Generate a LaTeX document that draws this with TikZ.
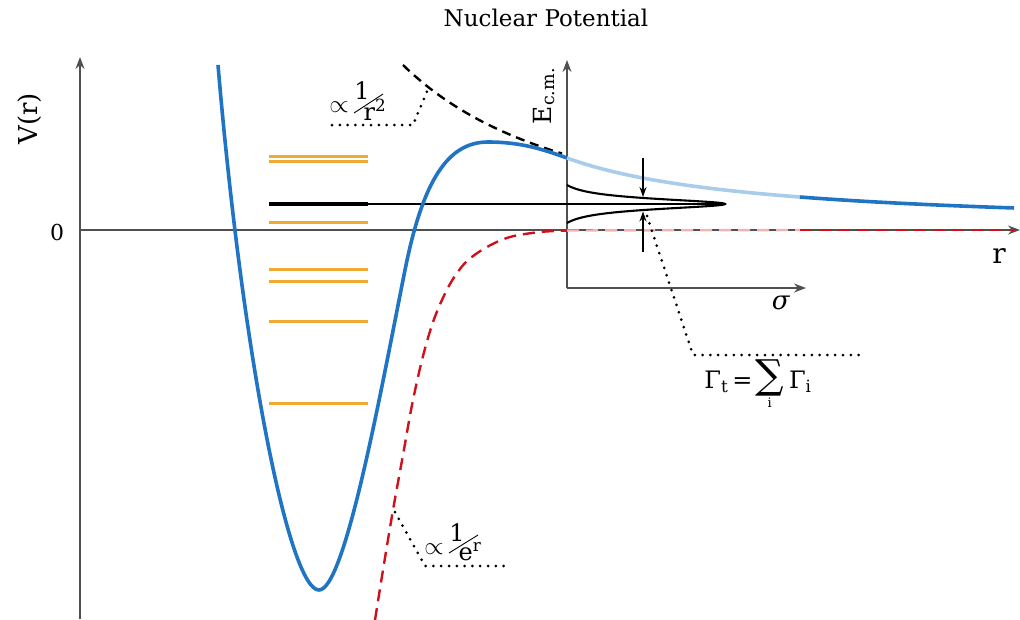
\documentclass[tikz,border=0pt]{standalone}
\usepackage{fontspec}
\setmainfont{DejaVu Serif}
\usetikzlibrary{arrows.meta}
\definecolor{potblue}{HTML}{1F74C4}
\definecolor{lightblue}{HTML}{A9CCEB}
\definecolor{levelorange}{HTML}{F0AA30}
\definecolor{potred}{HTML}{D0101A}
\definecolor{lightred}{HTML}{F2B3B3}
\definecolor{axisgray}{HTML}{505050}
\newcommand\fsz[1]{\fontsize{#1}{#1}\selectfont}
\begin{document}
\begin{tikzpicture}[x=1pt,y=-1pt,
  axisline/.style={draw=axisgray, line width=1.3pt, -{Stealth[length=12pt,width=9pt]}},
  bluecurve/.style={draw=potblue, line width=3.6pt},
  lightcurve/.style={draw=lightblue, line width=3.6pt},
  redcurve/.style={draw=potred, line width=2.4pt, dash pattern=on 12pt off 7pt},
  lightredcurve/.style={draw=lightred, line width=2.4pt, dash pattern=on 12pt off 7pt},
  inv2/.style={draw=black, line width=2.4pt, dash pattern=on 9pt off 6pt},
  level/.style={draw=levelorange, line width=3pt},
  blacklevel/.style={draw=black, line width=3.2pt},
  leader/.style={draw=black, line width=3pt, dash pattern=on 0pt off 7.8pt, line cap=round},
  widtharrow/.style={draw=black, line width=1.3pt, -{Stealth[length=10pt,width=7pt]}},
  lbl/.style={inner sep=0pt, outer sep=0pt, text=black}
]
\useasboundingbox (0,0) rectangle (1020,619);

% title
\node[lbl, font=\fsz{23}] (title) at (546,18) {Nuclear Potential};

% main axes
\coordinate (origin) at (80,230);
\coordinate (ybot) at (80,619);
\coordinate (ytop) at (80,57);
\coordinate (xend) at (1020,230);
\draw[axisline] (ybot) -- (ytop);
\draw[axisline] (origin) -- (xend);
\node[lbl, font=\fsz{22}] (zero) at (57,232) {0};
\node[lbl, font=\fsz{26}, rotate=90] (vr) at (30,119) {V(r)};
\node[lbl, font=\fsz{28}] (rlbl) at (999,256) {r};

% inset axes
\coordinate (io) at (567,288);
\coordinate (itop) at (567,60);
\coordinate (iright) at (806,288);
\draw[axisline] (io) -- (itop);
\draw[axisline] (io) -- (iright);
\node[lbl, font=\fsz{26}] (sigma) at (781,303) {\textit{σ}};
\node[lbl, font=\fsz{25}, rotate=90] (ecm) at (544,96) {E\textsubscript{c.m.}};

% energy levels
\foreach \yy in {156,161,222,269.5,281.5,321.5,403.3}
  \draw[level] (269,\yy) -- (368,\yy);
\coordinate (lvlA) at (269,204);
\coordinate (lvlB) at (368,204);
\coordinate (peak) at (725,204);
\draw[blacklevel] (lvlA) -- (lvlB);
\draw[draw=black, line width=1.2pt] (lvlB) -- (peak);

% 1/r^2 dashed
\draw[inv2] plot[domain=403:562, samples=60, variable=\t] ({\t},{230-165*(339/(\t-64))^2});

% exponential (red dashed)
\draw[redcurve] plot[smooth, tension=0.55] coordinates {(375,620) (383,570) (393,510) (403,455) (412,405) (422,360) (432,325) (442,300) (453,279) (467,261) (487,247) (510,237) (540,232) (567,230.5)};
\draw[lightredcurve] (567,230.5) -- (800,230);
\draw[redcurve] (800,230) -- (1016,230);

% nuclear potential (blue)
\draw[bluecurve] (218,65) .. controls (243.5,365) and (290,590) .. (319,590)
  .. controls (345,590) and (381,390) .. (405,270)
  .. controls (423,180) and (448,142) .. (488,142)
  .. controls (520,142) and (542,148.9) .. (567,158);
\draw[lightcurve] plot[domain=567:800, samples=50, variable=\t] ({\t},{230-14184/(\t-370)});
\draw[bluecurve] plot[domain=800:1014, samples=50, variable=\t] ({\t},{230-14184/(\t-370)});

% resonance
\draw[draw=black, line width=2.1pt] plot[domain=185:223, samples=121, variable=\t]
  ({567+158*(1/(1+((\t-204)/6.5)^2)-0.1048)/0.8952},{\t});
\coordinate (wtop) at (643,158);
\coordinate (wtopend) at (643,197);
\coordinate (wbot) at (643,252);
\coordinate (wbotend) at (643,211.5);
\draw[widtharrow] (wtop) -- (wtopend);
\draw[widtharrow] (wbot) -- (wbotend);

% leader 1/r^2
\coordinate (la1) at (332,125);
\coordinate (la2) at (413,125);
\coordinate (la3) at (428,89);
\draw[leader] (la1) -- (la2) -- (la3);
\node[lbl, font=\fsz{24}] (prop1) at (339,107) {\ensuremath{\propto}};
\node[lbl, font=\fsz{24}] (num1) at (362,91) {1};
\node[lbl, font=\fsz{24}] (den1) at (375,110) {r\textsuperscript{2}};
\draw[line width=0.9pt] (354,113) -- (383,94);

% leader 1/e^r
\coordinate (lb1) at (395,512);
\coordinate (lb2) at (425,566);
\coordinate (lb3) at (508,566);
\draw[leader] (lb1) -- (lb2) -- (lb3);
\node[lbl, font=\fsz{24}] (prop2) at (434,549) {\ensuremath{\propto}};
\node[lbl, font=\fsz{24}] (num2) at (457,533) {1};
\node[lbl, font=\fsz{24}] (den2) at (470,552) {e\textsuperscript{r}};
\draw[line width=0.9pt] (449,553) -- (478,535);

% leader Gamma
\coordinate (lc1) at (647,216);
\coordinate (lc2) at (693,355);
\coordinate (lc3) at (866,355);
\draw[leader] (lc1) -- (lc2) -- (lc3);
\node[lbl, font=\fsz{24}] (gamma) at (758,384) {Γ\textsubscript{t}\kern4pt=\kern3pt\ensuremath{\mathop{\hbox{\fsz{40}∑}}\limits_{\hbox{\fsz{13}i}}}\kern5ptΓ\textsubscript{i}};
\end{tikzpicture}
\end{document}
